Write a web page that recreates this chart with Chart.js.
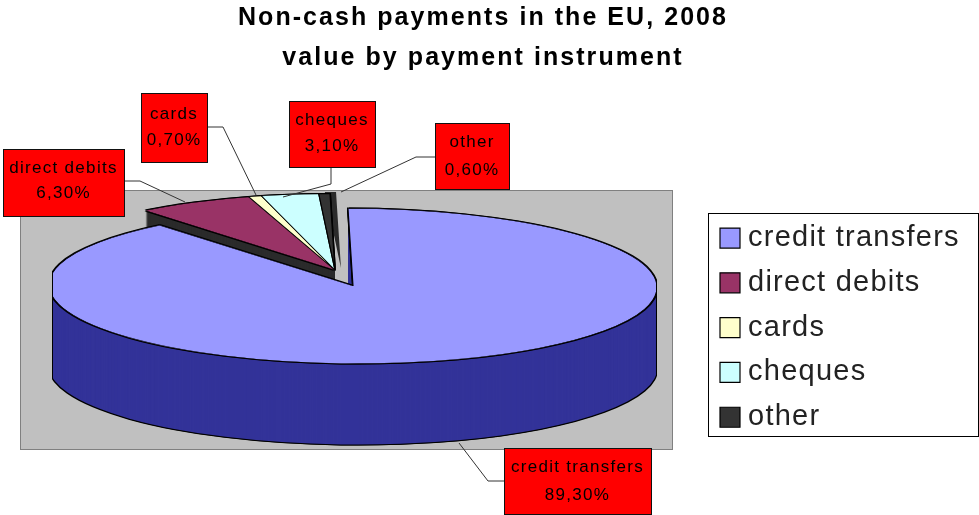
<!DOCTYPE html>
<html>
<head>
<meta charset="utf-8">
<title>Non-cash payments in the EU, 2008</title>
<style>
  body { margin: 0; background: #fff; }
  canvas { display: block; }
</style>
</head>
<body>
<canvas id="chart" width="979" height="515"></canvas>
<script src="https://cdn.jsdelivr.net/npm/chart.js@4/dist/chart.umd.js"></script>
<script>
const titleLines = ["Non-cash payments in the EU, 2008", "value by payment instrument"];
const categories = ["credit transfers", "direct debits", "cards", "cheques", "other"];
const shares = [89.3, 6.3, 0.7, 3.1, 0.6];
const topColors = ["#9999ff", "#993366", "#ffffcc", "#ccffff", "#333333"];
const wallColors = ["#333399", "#2b2b2b", "#2b2b2b", "#2b2b2b", "#2b2b2b"];

// red callouts: box [x, y, w, h], text lines y, leader line
const callouts = [
  { box: [504, 448, 147, 66], y: [467, 495], line: [[504, 481], [488, 481], [459, 443]] },
  { box: [3, 149, 121, 67], y: [168, 193], line: [[124, 181], [140, 181], [185, 202]] },
  { box: [141, 93, 66, 69], y: [114, 140], line: [[207, 127], [223, 127], [256, 195]] },
  { box: [289, 101, 86, 66], y: [120, 146], line: [[331, 167], [331, 184], [283, 197]] },
  { box: [435, 123, 74, 66], y: [142, 170], line: [[435, 157], [416, 157], [341, 192]] }
];

// fake 3d: the flat pie gets squashed and sheared, walls are stacked copies
const squash = 0.255;
const shear = 0.065;
const pivotY = 286;
const depth = 81;
const restCenter = [336, 223.3];
const restRadius = 298;
const bigCenter = [353, 286];
const bigRadius = 304;
const clipLeft = 53;
const clipRight = 656;

function tilt(ctx, dx, dy) {
  ctx.translate(dx, dy);
  ctx.transform(1, 0, shear * squash, squash, -shear * squash * pivotY, pivotY - squash * pivotY);
}

function paintArc(ctx, arc, color, dx, dy, pad) {
  const copy = Object.create(arc);
  copy.options = Object.assign({}, arc.options, { backgroundColor: color, borderWidth: 0 });
  ctx.save();
  ctx.beginPath();
  ctx.rect(clipLeft - pad, 0, clipRight - clipLeft + 2 * pad, 515);
  ctx.clip();
  tilt(ctx, dx, dy);
  copy.draw(ctx);
  ctx.restore();
}

function halo(ctx, arc, dx, dy) {
  [[-1, -1], [1, -1], [-1, 1], [1, 1]].forEach((o) => {
    paintArc(ctx, arc, "#000", dx + o[0], dy + o[1], 1);
  });
}

const pie3d = {
  id: "pie3d",
  afterLayout(chart) {
    const area = chart.chartArea;
    area.left = restCenter[0] - 100;
    area.right = restCenter[0] + 100;
    area.top = restCenter[1] - 100;
    area.bottom = restCenter[1] + 100;
    area.width = 200;
    area.height = 200;

    const t = chart.titleBlock;
    t.left = 0;
    t.right = 966;
    t.top = -2;
    if (!t.spaced) {
      const drawTitle = t.draw;
      t.draw = function () {
        chart.ctx.letterSpacing = "2.05px";
        drawTitle.call(t);
        chart.ctx.letterSpacing = "1.25px";
      };
      t.spaced = true;
    }

    const l = chart.legend;
    l.left = 710.7;
    l.right = 978;
    l.top = 207.75;
    l.bottom = 480;
  },
  afterDatasetsUpdate(chart) {
    const big = chart.getDatasetMeta(0).data[0];
    big.x = bigCenter[0];
    big.y = bigCenter[1];
    big.outerRadius = bigRadius;
  },
  beforeDraw(chart) {
    const ctx = chart.ctx;
    ctx.save();
    ctx.fillStyle = "#fff";
    ctx.fillRect(0, 0, chart.width, chart.height);
    ctx.fillStyle = "#c0c0c0";
    ctx.strokeStyle = "#808080";
    ctx.lineWidth = 1;
    ctx.fillRect(21, 191, 652, 259);
    ctx.strokeRect(20.5, 190.5, 652, 259);
    ctx.fillStyle = "#fff";
    ctx.strokeStyle = "#000";
    ctx.fillRect(708, 213, 270, 223);
    ctx.strokeRect(708.5, 213.5, 270, 223);
    ctx.restore();
    ctx.letterSpacing = "1.25px";
  },
  beforeDatasetsDraw(chart) {
    const ctx = chart.ctx;
    ctx.letterSpacing = "0px";
    const arcs = chart.getDatasetMeta(0).data;
    for (let a = arcs.length - 1; a >= 1; a--) {
      if (a === arcs.length - 1) {
        paintArc(ctx, arcs[a], wallColors[a], 6, -2, 0);
      }
      for (let i = depth; i > 0; i--) {
        paintArc(ctx, arcs[a], wallColors[a], 0, i, 0);
      }
      halo(ctx, arcs[a], 0, 0);
    }
    for (let i = depth; i >= 0; i--) {
      paintArc(ctx, arcs[0], "#000", 0, i, 1);
    }
    halo(ctx, arcs[0], 0, depth);
    for (let i = depth; i > 0; i--) {
      paintArc(ctx, arcs[0], wallColors[0], 0, i, 0);
    }
    halo(ctx, arcs[0], 0, 0);
    ctx.save();
    ctx.beginPath();
    ctx.rect(clipLeft, 0, clipRight - clipLeft, 515);
    ctx.clip();
    tilt(ctx, 0, 0);
  },
  afterDatasetsDraw(chart) {
    chart.ctx.restore();
  },
  afterDraw(chart) {
    const ctx = chart.ctx;
    ctx.save();
    ctx.letterSpacing = "1.3px";
    ctx.font = "17px 'Liberation Sans'";
    ctx.textAlign = "center";
    ctx.textBaseline = "middle";
    callouts.forEach((c, i) => {
      ctx.strokeStyle = "#333";
      ctx.lineWidth = 1;
      ctx.beginPath();
      c.line.forEach((p, j) => {
        if (j === 0) ctx.moveTo(p[0], p[1]);
        else ctx.lineTo(p[0], p[1]);
      });
      ctx.stroke();
      ctx.fillStyle = "#ff0000";
      ctx.strokeStyle = "#111";
      ctx.fillRect(c.box[0], c.box[1], c.box[2], c.box[3]);
      ctx.strokeRect(c.box[0] + 0.5, c.box[1] + 0.5, c.box[2], c.box[3]);
      ctx.fillStyle = "#000";
      const cx = c.box[0] + c.box[2] / 2;
      ctx.fillText(categories[i], cx, c.y[0]);
      ctx.fillText(shares[i].toFixed(2).replace(".", ",") + "%", cx, c.y[1]);
    });
    ctx.restore();
  }
};

new Chart("chart", {
  type: "pie",
  data: {
    labels: categories,
    datasets: [{
      data: shares,
      backgroundColor: topColors,
      borderColor: "#000",
      borderWidth: 1.2,
      radius: restRadius,
      clip: false
    }]
  },
  options: {
    responsive: false,
    animation: false,
    events: [],
    plugins: {
      title: {
        display: true,
        text: titleLines,
        color: "#000",
        padding: 0,
        font: { family: "'Liberation Sans'", size: 25, weight: "bold", lineHeight: 40 / 25 }
      },
      legend: {
        display: true,
        position: "right",
        align: "start",
        labels: {
          color: "#222",
          padding: 15.8,
          usePointStyle: true,
          pointStyle: "rect",
          boxWidth: 7,
          boxHeight: 20,
          font: { family: "'Liberation Sans'", size: 29, lineHeight: 1 }
        }
      },
      tooltip: { enabled: false }
    }
  },
  plugins: [pie3d]
});
</script>
</body>
</html>
